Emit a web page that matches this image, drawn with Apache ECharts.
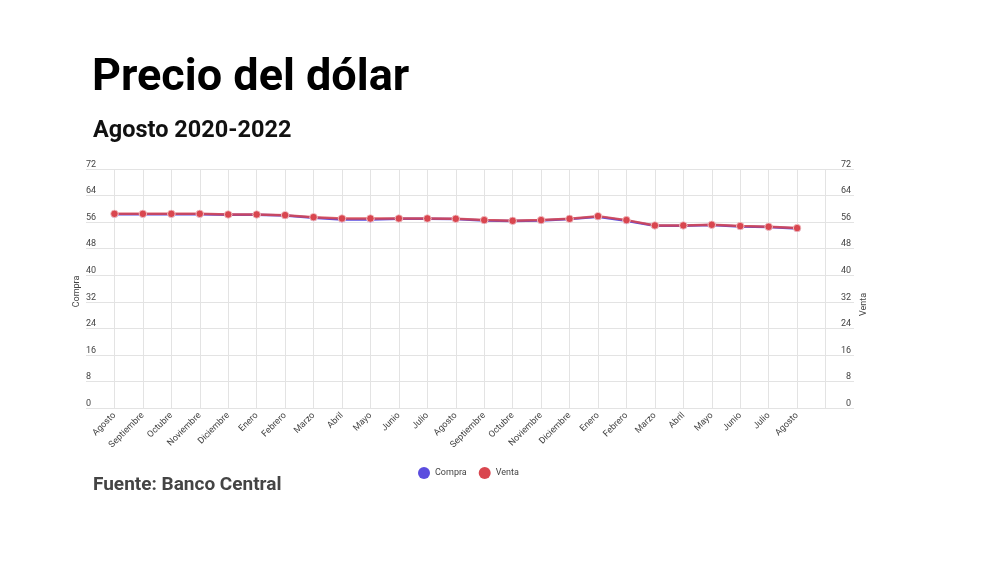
<!DOCTYPE html>
<html>
<head>
<meta charset="utf-8">
<script src="https://cdn.jsdelivr.net/npm/echarts@6/dist/echarts.min.js"></script>
<style>
  html, body { margin: 0; padding: 0; background: #fff; }
  #chart { width: 1000px; height: 562px; }
</style>
</head>
<body>
<div id="chart"></div>
<script>
// meses de agosto 2020 a agosto 2022
var meses = ['Agosto','Septiembre','Octubre','Noviembre','Diciembre','Enero','Febrero','Marzo','Abril','Mayo','Junio','Julio',
	'Agosto','Septiembre','Octubre','Noviembre','Diciembre','Enero','Febrero','Marzo','Abril','Mayo','Junio','Julio','Agosto'];
var compra = [58.4,58.4,58.4,58.4,58.2,58.2,58.0,57.3,56.8,56.8,57.0,57.0,56.9,56.5,56.3,56.5,56.9,57.6,56.4,54.9,54.9,55.1,54.7,54.5,54.1];
var venta = [58.5,58.5,58.5,58.5,58.3,58.3,58.1,57.5,57.1,57.1,57.1,57.1,57.0,56.6,56.4,56.6,57.0,57.8,56.6,55.0,55.0,55.2,54.8,54.6,54.2];
var yTicks = [0, 72, 8]; // min, max, intervalo

// un hueco vacio antes y dos despues, como en el original
var categorias = [''].concat(meses, ['', '']);
var pad = function (arr) { return [null].concat(arr, [null, null]); };
var last = categorias.length - 1;

var chart = echarts.init(document.getElementById('chart'));
var option = {
	textStyle: { fontFamily: 'Roboto' },
	title: [
		{ text: 'Precio del dólar', left: 87, top: 51,
			textStyle: { fontSize: 45, fontWeight: 'bold', color: '#000', fontFamily: 'Roboto' } },
		{ text: 'Agosto 2020-2022', left: 88, top: 114,
			textStyle: { fontSize: 23.5, fontWeight: 'bold', color: '#111', fontFamily: 'Roboto' } },
		{ text: 'Fuente: Banco Central', left: 88, top: 471,
			textStyle: { fontSize: 19, fontWeight: 'bold', color: '#444', fontFamily: 'Roboto' } }
	],
	color: ['#5b4ddf', '#d9464f'],
	legend: {
		data: ['Compra', 'Venta'],
		left: 413,
		top: 462,
		icon: 'circle',
		itemWidth: 12,
		itemHeight: 12,
		itemGap: 12,
		itemStyle: { borderWidth: 0 },
		textStyle: { fontSize: 9, color: '#444' }
	},
	grid: { left: 86, right: 146, top: 169, bottom: 154 },
	xAxis: {
		type: 'category',
		boundaryGap: false,
		data: categorias,
		axisLine: { show: false },
		axisTick: { show: false },
		axisLabel: { interval: 0, rotate: 45, fontSize: 9, color: '#444', margin: 6 },
		splitLine: {
			show: true,
			interval: function (i) { return i > 0 && i < last; },
			lineStyle: { color: '#e3e3e3' }
		}
	},
	yAxis: [
		{
			type: 'value', position: 'left',
			min: yTicks[0], max: yTicks[1], interval: yTicks[2],
			name: 'Compra', nameLocation: 'middle', nameGap: 5, nameRotate: 90, nameMoveOverlap: false,
			nameTextStyle: { fontSize: 9, color: '#444', padding: [0, 6, 0, 0] },
			axisLine: { show: false }, axisTick: { show: false },
			axisLabel: { inside: true, align: 'left', verticalAlign: 'bottom', margin: 0, fontSize: 9, color: '#444' },
			splitLine: { lineStyle: { color: '#e3e3e3' } }
		},
		{
			type: 'value', position: 'right',
			min: yTicks[0], max: yTicks[1], interval: yTicks[2],
			name: 'Venta', nameLocation: 'middle', nameGap: 5, nameRotate: 90, nameMoveOverlap: false,
			nameTextStyle: { fontSize: 9, color: '#444', padding: [0, 32, 0, 0] },
			axisLine: { show: false }, axisTick: { show: false },
			axisLabel: { inside: true, align: 'right', verticalAlign: 'bottom', margin: 3, fontSize: 9, color: '#444' },
			splitLine: { show: false }
		}
	],
	series: [
		{
			name: 'Compra', type: 'line', yAxisIndex: 0,
			data: pad(compra),
			symbol: 'circle', symbolSize: 7,
			lineStyle: { width: 2.5 },
			itemStyle: { borderColor: '#fff', borderWidth: 0.8 }
		},
		{
			name: 'Venta', type: 'line', yAxisIndex: 1,
			data: pad(venta),
			symbol: 'circle', symbolSize: 7.5,
			lineStyle: { width: 2.5, opacity: 0.85 },
			itemStyle: { borderColor: '#f3c9cc', borderWidth: 0.8 }
		}
	]
};
chart.setOption(option);
</script>
</body>
</html>
